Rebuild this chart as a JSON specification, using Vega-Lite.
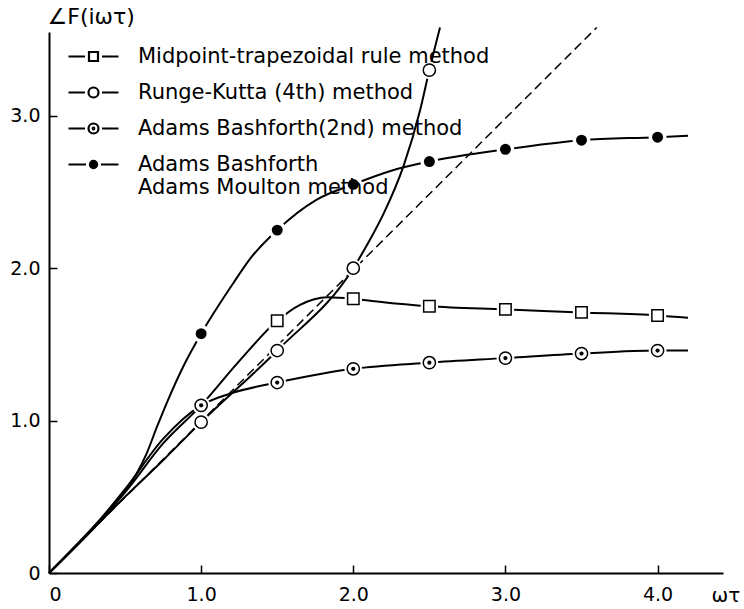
{
  "$schema": "https://vega.github.io/schema/vega-lite/v6.json",
  "width": 674,
  "height": 541,
  "autosize": {"type": "none"},
  "padding": {"left": 49, "top": 32, "right": 21, "bottom": 36},
  "background": "white",
  "config": {
    "view": {"stroke": null},
    "font": "DejaVu Sans",
    "axis": {
      "grid": false,
      "domainColor": "black",
      "domainWidth": 2,
      "tickColor": "black",
      "tickWidth": 1.5,
      "tickSize": -8,
      "labelColor": "black",
      "labelFont": "DejaVu Sans",
      "labelFontSize": 19,
      "titleColor": "black",
      "titleFont": "DejaVu Sans",
      "titleFontWeight": "normal"
    }
  },
  "datasets": {
    "curves": [
      {"series": "Midpoint-trapezoidal rule method", "x": 0, "y": 0},
      {"series": "Midpoint-trapezoidal rule method", "x": 0.3, "y": 0.31},
      {"series": "Midpoint-trapezoidal rule method", "x": 0.5, "y": 0.53},
      {"series": "Midpoint-trapezoidal rule method", "x": 0.75, "y": 0.85},
      {"series": "Midpoint-trapezoidal rule method", "x": 1.0, "y": 1.1},
      {"series": "Midpoint-trapezoidal rule method", "x": 1.25, "y": 1.39},
      {"series": "Midpoint-trapezoidal rule method", "x": 1.5, "y": 1.655},
      {"series": "Midpoint-trapezoidal rule method", "x": 1.65, "y": 1.76},
      {"series": "Midpoint-trapezoidal rule method", "x": 1.83, "y": 1.81},
      {"series": "Midpoint-trapezoidal rule method", "x": 2.0, "y": 1.8},
      {"series": "Midpoint-trapezoidal rule method", "x": 2.17, "y": 1.78},
      {"series": "Midpoint-trapezoidal rule method", "x": 2.5, "y": 1.75},
      {"series": "Midpoint-trapezoidal rule method", "x": 3.0, "y": 1.73},
      {"series": "Midpoint-trapezoidal rule method", "x": 3.5, "y": 1.71},
      {"series": "Midpoint-trapezoidal rule method", "x": 4.0, "y": 1.69},
      {"series": "Midpoint-trapezoidal rule method", "x": 4.2, "y": 1.675},
      {"series": "Runge-Kutta (4th) method", "x": 0, "y": 0},
      {"series": "Runge-Kutta (4th) method", "x": 0.3, "y": 0.3},
      {"series": "Runge-Kutta (4th) method", "x": 0.5, "y": 0.5},
      {"series": "Runge-Kutta (4th) method", "x": 0.75, "y": 0.74},
      {"series": "Runge-Kutta (4th) method", "x": 1.0, "y": 0.99},
      {"series": "Runge-Kutta (4th) method", "x": 1.5, "y": 1.46},
      {"series": "Runge-Kutta (4th) method", "x": 2.0, "y": 2.0},
      {"series": "Runge-Kutta (4th) method", "x": 2.1, "y": 2.17},
      {"series": "Runge-Kutta (4th) method", "x": 2.2, "y": 2.36},
      {"series": "Runge-Kutta (4th) method", "x": 2.33, "y": 2.67},
      {"series": "Runge-Kutta (4th) method", "x": 2.44, "y": 3.04},
      {"series": "Runge-Kutta (4th) method", "x": 2.5, "y": 3.3},
      {"series": "Runge-Kutta (4th) method", "x": 2.57, "y": 3.58},
      {"series": "Adams Bashforth(2nd) method", "x": 0, "y": 0},
      {"series": "Adams Bashforth(2nd) method", "x": 0.3, "y": 0.31},
      {"series": "Adams Bashforth(2nd) method", "x": 0.5, "y": 0.55},
      {"series": "Adams Bashforth(2nd) method", "x": 0.75, "y": 0.88},
      {"series": "Adams Bashforth(2nd) method", "x": 1.0, "y": 1.1},
      {"series": "Adams Bashforth(2nd) method", "x": 1.2, "y": 1.18},
      {"series": "Adams Bashforth(2nd) method", "x": 1.5, "y": 1.25},
      {"series": "Adams Bashforth(2nd) method", "x": 2.0, "y": 1.34},
      {"series": "Adams Bashforth(2nd) method", "x": 2.5, "y": 1.38},
      {"series": "Adams Bashforth(2nd) method", "x": 3.0, "y": 1.41},
      {"series": "Adams Bashforth(2nd) method", "x": 3.5, "y": 1.44},
      {"series": "Adams Bashforth(2nd) method", "x": 4.0, "y": 1.46},
      {"series": "Adams Bashforth(2nd) method", "x": 4.2, "y": 1.46},
      {"series": "Adams Bashforth Adams Moulton method", "x": 0, "y": 0},
      {"series": "Adams Bashforth Adams Moulton method", "x": 0.3, "y": 0.3},
      {"series": "Adams Bashforth Adams Moulton method", "x": 0.4, "y": 0.41},
      {"series": "Adams Bashforth Adams Moulton method", "x": 0.5, "y": 0.54},
      {"series": "Adams Bashforth Adams Moulton method", "x": 0.58, "y": 0.66},
      {"series": "Adams Bashforth Adams Moulton method", "x": 0.64, "y": 0.78},
      {"series": "Adams Bashforth Adams Moulton method", "x": 0.71, "y": 0.96},
      {"series": "Adams Bashforth Adams Moulton method", "x": 0.78, "y": 1.13},
      {"series": "Adams Bashforth Adams Moulton method", "x": 0.89, "y": 1.37},
      {"series": "Adams Bashforth Adams Moulton method", "x": 1.0, "y": 1.57},
      {"series": "Adams Bashforth Adams Moulton method", "x": 1.21, "y": 1.9},
      {"series": "Adams Bashforth Adams Moulton method", "x": 1.32, "y": 2.06},
      {"series": "Adams Bashforth Adams Moulton method", "x": 1.5, "y": 2.25},
      {"series": "Adams Bashforth Adams Moulton method", "x": 1.76, "y": 2.45},
      {"series": "Adams Bashforth Adams Moulton method", "x": 2.0, "y": 2.55},
      {"series": "Adams Bashforth Adams Moulton method", "x": 2.25, "y": 2.64},
      {"series": "Adams Bashforth Adams Moulton method", "x": 2.5, "y": 2.7},
      {"series": "Adams Bashforth Adams Moulton method", "x": 3.0, "y": 2.78},
      {"series": "Adams Bashforth Adams Moulton method", "x": 3.5, "y": 2.84},
      {"series": "Adams Bashforth Adams Moulton method", "x": 4.0, "y": 2.86},
      {"series": "Adams Bashforth Adams Moulton method", "x": 4.2, "y": 2.87},
      {"series": "exact", "x": 0, "y": 0},
      {"series": "exact", "x": 3.6, "y": 3.58}
    ],
    "markers": [
      {"series": "Midpoint-trapezoidal rule method", "x": 1.5, "y": 1.655},
      {"series": "Midpoint-trapezoidal rule method", "x": 2.0, "y": 1.8},
      {"series": "Midpoint-trapezoidal rule method", "x": 2.5, "y": 1.75},
      {"series": "Midpoint-trapezoidal rule method", "x": 3.0, "y": 1.73},
      {"series": "Midpoint-trapezoidal rule method", "x": 3.5, "y": 1.71},
      {"series": "Midpoint-trapezoidal rule method", "x": 4.0, "y": 1.69},
      {"series": "Runge-Kutta (4th) method", "x": 1.0, "y": 0.99},
      {"series": "Runge-Kutta (4th) method", "x": 1.5, "y": 1.46},
      {"series": "Runge-Kutta (4th) method", "x": 2.0, "y": 2.0},
      {"series": "Runge-Kutta (4th) method", "x": 2.5, "y": 3.3},
      {"series": "Adams Bashforth(2nd) method", "x": 1.0, "y": 1.1},
      {"series": "Adams Bashforth(2nd) method", "x": 1.5, "y": 1.25},
      {"series": "Adams Bashforth(2nd) method", "x": 2.0, "y": 1.34},
      {"series": "Adams Bashforth(2nd) method", "x": 2.5, "y": 1.38},
      {"series": "Adams Bashforth(2nd) method", "x": 3.0, "y": 1.41},
      {"series": "Adams Bashforth(2nd) method", "x": 3.5, "y": 1.44},
      {"series": "Adams Bashforth(2nd) method", "x": 4.0, "y": 1.46},
      {"series": "Adams Bashforth Adams Moulton method", "x": 1.0, "y": 1.57},
      {"series": "Adams Bashforth Adams Moulton method", "x": 1.5, "y": 2.25},
      {"series": "Adams Bashforth Adams Moulton method", "x": 2.0, "y": 2.55},
      {"series": "Adams Bashforth Adams Moulton method", "x": 2.5, "y": 2.7},
      {"series": "Adams Bashforth Adams Moulton method", "x": 3.0, "y": 2.78},
      {"series": "Adams Bashforth Adams Moulton method", "x": 3.5, "y": 2.84},
      {"series": "Adams Bashforth Adams Moulton method", "x": 4.0, "y": 2.86}
    ]
  },
  "encoding": {
    "x": {
      "field": "x", "type": "quantitative",
      "scale": {"domain": [0, 4.43], "nice": false, "zero": false},
      "axis": {
        "values": [0, 1, 2, 3, 4],
        "labelExpr": "datum.value == 0 ? '0' : format(datum.value, '.1f')",
        "labelPadding": 20,
        "title": "ωτ",
        "titleFontSize": 20,
        "titleAngle": 0,
        "titleAlign": "left",
        "titleBaseline": "middle",
        "titleX": 662,
        "titleY": 22
      }
    },
    "y": {
      "field": "y", "type": "quantitative",
      "scale": {"domain": [0, 3.55], "nice": false, "zero": false},
      "axis": {
        "values": [0, 1, 2, 3],
        "labelExpr": "datum.value == 0 ? '0' : format(datum.value, '.1f')",
        "labelPadding": 17,
        "title": "∠F(iωτ)",
        "titleFontSize": 22,
        "titleAngle": 0,
        "titleAlign": "left",
        "titleBaseline": "middle",
        "titleX": -2,
        "titleY": -16
      }
    }
  },
  "layer": [
    {
      "data": {"name": "curves"},
      "transform": [{"filter": "datum.series != 'exact'"}],
      "mark": {"type": "line", "interpolate": "monotone", "stroke": "black", "strokeWidth": 2},
      "encoding": {"detail": {"field": "series"}}
    },
    {
      "data": {"name": "curves"},
      "transform": [{"filter": "datum.series == 'exact'"}],
      "mark": {"type": "line", "stroke": "black", "strokeWidth": 1.5, "strokeDash": [9, 5]},
      "encoding": {}
    },
    {
      "data": {"name": "markers"},
      "transform": [{"filter": "datum.series == 'Midpoint-trapezoidal rule method'"}],
      "mark": {"type": "point", "shape": "square", "size": 300, "filled": true, "fill": "white", "opacity": 1, "strokeWidth": 0},
      "encoding": {}
    },
    {
      "data": {"name": "markers"},
      "transform": [{"filter": "datum.series != 'Midpoint-trapezoidal rule method'"}],
      "mark": {"type": "point", "shape": "circle", "size": 320, "filled": true, "fill": "white", "opacity": 1, "strokeWidth": 0},
      "encoding": {}
    },
    {
      "data": {"name": "markers"},
      "transform": [{"filter": "datum.series == 'Midpoint-trapezoidal rule method'"}],
      "mark": {"type": "point", "shape": "square", "size": 130, "fill": "white", "filled": true, "stroke": "black", "strokeWidth": 1.5, "opacity": 1},
      "encoding": {}
    },
    {
      "data": {"name": "markers"},
      "transform": [{"filter": "datum.series == 'Runge-Kutta (4th) method' || datum.series == 'Adams Bashforth(2nd) method'"}],
      "mark": {"type": "point", "shape": "circle", "size": 150, "fill": "white", "filled": true, "stroke": "black", "strokeWidth": 1.5, "opacity": 1},
      "encoding": {}
    },
    {
      "data": {"name": "markers"},
      "transform": [{"filter": "datum.series == 'Adams Bashforth Adams Moulton method'"}],
      "mark": {"type": "point", "shape": "circle", "size": 120, "filled": true, "fill": "black", "opacity": 1, "strokeWidth": 0},
      "encoding": {}
    },
    {
      "data": {"name": "markers"},
      "transform": [{"filter": "datum.series == 'Adams Bashforth(2nd) method'"}],
      "mark": {"type": "point", "shape": "circle", "size": 18, "filled": true, "fill": "black", "opacity": 1, "strokeWidth": 0},
      "encoding": {}
    },
    {
      "data": {"name": "markers"},
      "transform": [{"filter": "false"}],
      "mark": {"type": "point", "size": 400, "strokeWidth": 2.2, "opacity": 1},
      "encoding": {
        "shape": {
          "field": "series", "type": "nominal",
          "scale": {
            "domain": ["Midpoint-trapezoidal rule method", "Runge-Kutta (4th) method", "Adams Bashforth(2nd) method", "Adams Bashforth Adams Moulton method"],
            "range": [
              "M-2.5,0H-0.85M0.85,0H2.5M-0.45,-0.45H0.45V0.45H-0.45Z",
              "M-2.5,0H-0.85M0.85,0H2.5M-0.5,0A0.5,0.5,0,1,0,0.5,0A0.5,0.5,0,1,0,-0.5,0Z",
              "M-2.5,0H-0.85M0.85,0H2.5M-0.5,0A0.5,0.5,0,1,0,0.5,0A0.5,0.5,0,1,0,-0.5,0ZM-0.08,0A0.08,0.08,0,1,0,0.08,0A0.08,0.08,0,1,0,-0.08,0Z",
              "M-2.5,0H-0.75M0.75,0H2.5M-0.36,0A0.36,0.36,0,1,0,0.36,0A0.36,0.36,0,1,0,-0.36,0Z"
            ]
          },
          "legend": {
            "title": null,
            "orient": "none",
            "legendX": 33,
            "legendY": 13,
            "padding": 0,
            "symbolSize": 400,
            "symbolStrokeWidth": 2.2,
            "rowPadding": 14,
            "labelOffset": 33,
            "labelFont": "DejaVu Sans",
            "labelFontSize": 21,
            "labelColor": "black",
            "labelLimit": 0,
            "labelExpr": "datum.label == 'Adams Bashforth Adams Moulton method' ? ['Adams Bashforth', 'Adams Moulton method'] : datum.label"
          }
        },
        "fill": {
          "field": "series", "type": "nominal",
          "scale": {
            "domain": ["Midpoint-trapezoidal rule method", "Runge-Kutta (4th) method", "Adams Bashforth(2nd) method", "Adams Bashforth Adams Moulton method"],
            "range": ["white", "white", "white", "black"]
          }
        },
        "stroke": {
          "field": "series", "type": "nominal",
          "scale": {
            "domain": ["Midpoint-trapezoidal rule method", "Runge-Kutta (4th) method", "Adams Bashforth(2nd) method", "Adams Bashforth Adams Moulton method"],
            "range": ["black", "black", "black", "black"]
          }
        }
      }
    }
  ]
}
